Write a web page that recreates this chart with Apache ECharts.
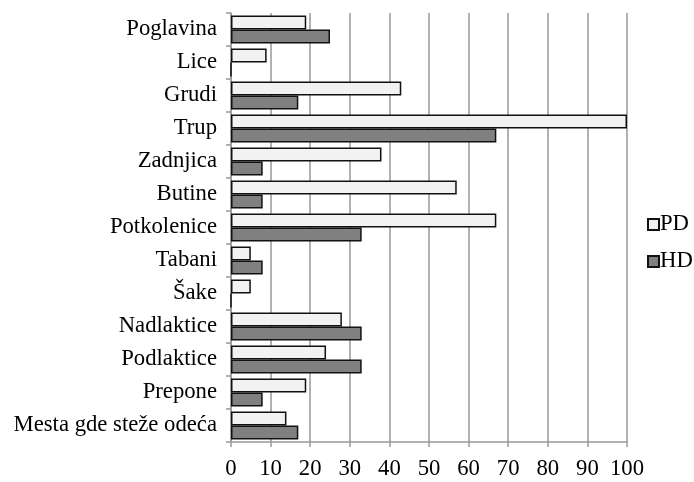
<!DOCTYPE html>
<html><head><meta charset="utf-8">
<script src="https://cdn.jsdelivr.net/npm/echarts@6/dist/echarts.min.js"></script>
<style>html,body{margin:0;padding:0;background:#fff}#c{width:694px;height:482px}</style>
</head><body><div id="c"></div>
<script>
const categories = ["Poglavina","Lice","Grudi","Trup","Zadnjica","Butine","Potkolenice","Tabani","Šake","Nadlaktice","Podlaktice","Prepone","Mesta gde steže odeća"];
const pdValues = [19, 9, 43, 100, 38, 57, 67, 5, 5, 28, 24, 19, 14];
const hdValues = [25, 0, 17, 67, 8, 8, 33, 8, 0, 33, 33, 8, 17];
const xTicks = [0,10,20,30,40,50,60,70,80,90,100];
const font = "Liberation Serif";
const fs = 22.7;
const chart = echarts.init(document.getElementById('c'));
chart.setOption({
  animation:false,
  backgroundColor:'#fff',
  grid:{left:231,right:67,top:13,bottom:40,containLabel:false},
  legend:{
    orient:'vertical', left:642, top:208, itemWidth:11, itemHeight:11, itemGap:14, icon:'rect',
    textStyle:{fontFamily:font,fontSize:fs,color:'#000',padding:[0,0,0,-4]},
    data:['PD','HD']
  },
  xAxis:{
    type:'value', min:xTicks[0], max:xTicks[xTicks.length-1], interval:10,
    axisLine:{show:true,lineStyle:{color:'#999',width:1.5}},
    axisTick:{show:true,length:5,lineStyle:{color:'#999',width:1.5}},
    splitLine:{show:true,lineStyle:{color:'#999',width:1.5}},
    axisLabel:{fontFamily:font,fontSize:fs,color:'#000',margin:16}
  },
  yAxis:{
    type:'category', data:categories, inverse:true,
    axisLine:{show:true,lineStyle:{color:'#999',width:1.5}},
    axisTick:{show:true,length:5,lineStyle:{color:'#999',width:1.5}},
    axisLabel:{fontFamily:font,fontSize:fs,color:'#000',margin:14,padding:[4,0,0,0]}
  },
  series:[
    {name:'PD',type:'bar',data:pdValues,barGap:'0%',barCategoryGap:'15%',
     itemStyle:{color:'#f2f2f2',borderColor:'#111',borderWidth:1.5}},
    {name:'HD',type:'bar',data:hdValues,barGap:'0%',barCategoryGap:'15%',
     itemStyle:{color:'#808080',borderColor:'#111',borderWidth:1.5}}
  ]
});
</script></body></html>
